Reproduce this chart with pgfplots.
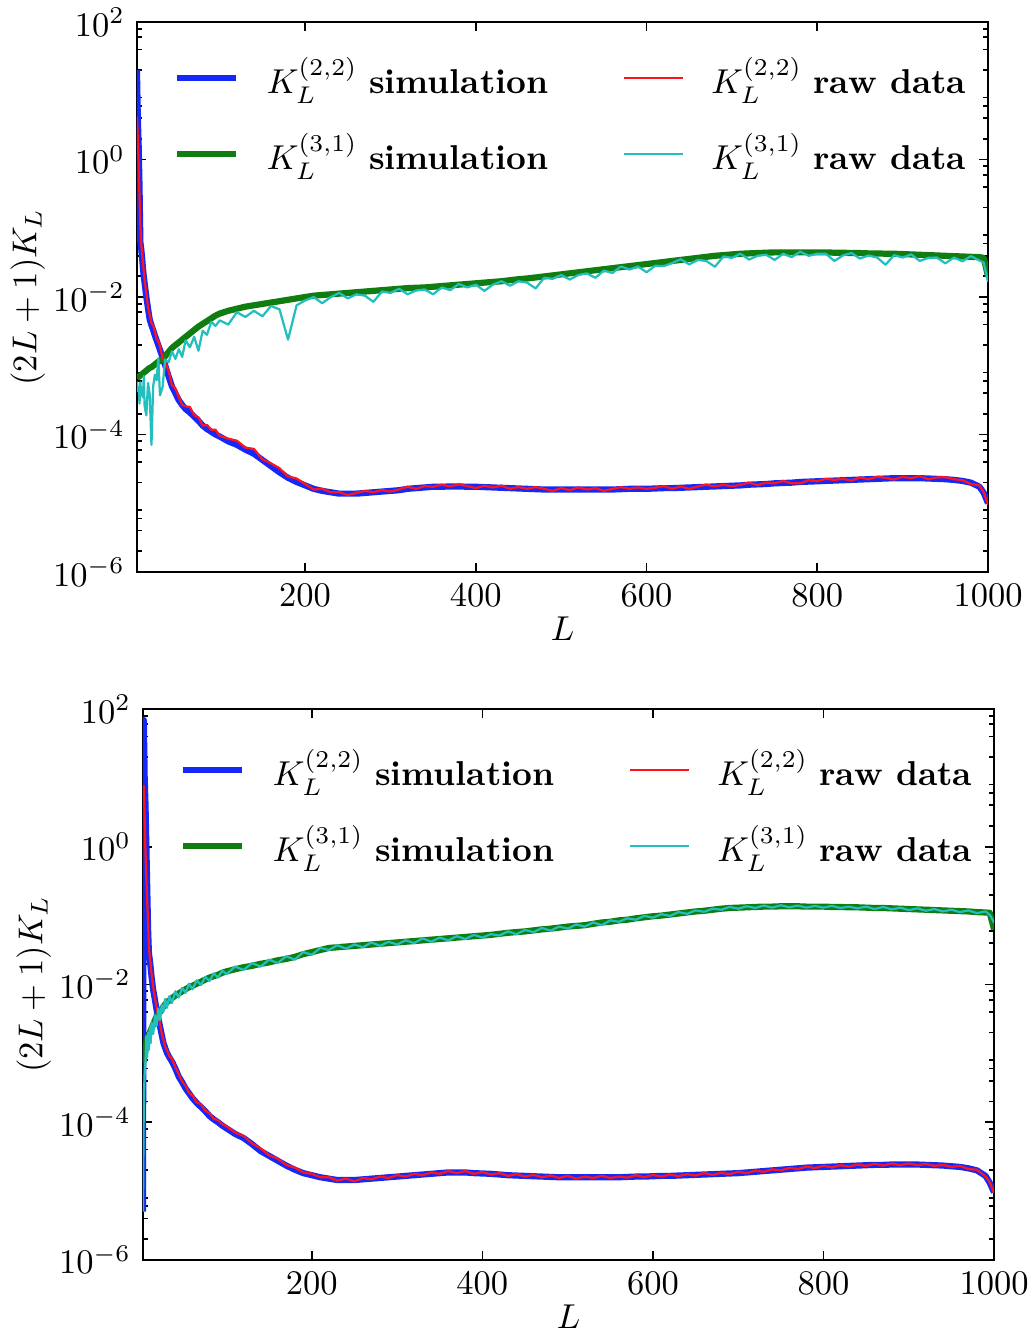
\documentclass[border=0pt]{standalone}
\usepackage{pgfplots}
\usepackage{pgfplotstable}
\pgfplotsset{compat=1.18}
\definecolor{simblue}{RGB}{20,40,250}
\definecolor{simgreen}{RGB}{15,125,15}
\definecolor{rawred}{RGB}{255,20,30}
\definecolor{rawcyan}{RGB}{35,190,190}

% columns: L, log10 of (2L+1)K_L for: blue sim (2,2), red raw (2,2), green sim (3,1), cyan raw (3,1)
\pgfplotstableread{
L lb lr lg lc
3 1.30 0.62 -3.18 -3.23
4 0.60 0.30 -3.17 -3.37
5 0.20 -0.05 -3.16 -3.31
6 -0.40 -0.55 -3.15 -3.55
7 -1.20 -0.95 -3.14 -3.24
8 -1.30 -1.22 -3.13 -3.43
9 -1.42 -1.35 -3.12 -3.32
10 -1.58 -1.50 -3.11 -3.46
11 -1.70 -1.62 -3.10 -3.15
12 -1.80 -1.74 -3.09 -3.59
14 -2.00 -1.95 -3.07 -3.72
16 -2.17 -2.15 -3.05 -3.25
18 -2.33 -2.26 -3.03 -3.43
20 -2.41 -2.38 -3.02 -4.15
22 -2.48 -2.41 -3.00 -3.30
24 -2.56 -2.50 -2.98 -3.13
26 -2.63 -2.61 -2.96 -3.21
28 -2.70 -2.64 -2.94 -2.89
30 -2.77 -2.71 -2.93 -3.43
33 -2.88 -2.89 -2.91 -3.31
36 -2.99 -2.95 -2.86 -2.91
40 -3.15 -3.07 -2.80 -2.95
44 -3.30 -3.28 -2.74 -2.79
48 -3.40 -3.33 -2.70 -2.90
52 -3.50 -3.45 -2.66 -2.76
56 -3.57 -3.57 -2.62 -2.87
60 -3.63 -3.59 -2.58 -2.63
65 -3.68 -3.60 -2.53 -2.73
70 -3.74 -3.72 -2.48 -2.58
75 -3.80 -3.75 -2.43 -2.78
80 -3.87 -3.87 -2.39 -2.49
85 -3.92 -3.86 -2.35 -2.55
90 -3.96 -3.93 -2.31 -2.36
95 -4.00 -3.93 -2.27 -2.42
100 -4.03 -4.02 -2.24 -2.34
110 -4.10 -4.06 -2.20 -2.40
120 -4.15 -4.09 -2.17 -2.22
130 -4.22 -4.19 -2.14 -2.29
140 -4.28 -4.21 -2.12 -2.20
150 -4.37 -4.36 -2.10 -2.28
160 -4.46 -4.42 -2.08 -2.13
170 -4.55 -4.49 -2.06 -2.18
180 -4.63 -4.61 -2.04 -2.62
190 -4.69 -4.64 -2.02 -2.12
200 -4.74 -4.72 -2.00 -2.05
210 -4.79 -4.80 -1.98 -2.00
220 -4.82 -4.79 -1.97 -2.09
230 -4.84 -4.84 -1.96 -2.00
240 -4.86 -4.84 -1.95 -1.94
250 -4.86 -4.88 -1.94 -2.02
260 -4.86 -4.85 -1.93 -1.96
270 -4.85 -4.82 -1.92 -1.98
280 -4.84 -4.84 -1.91 -2.07
290 -4.83 -4.81 -1.90 -1.92
300 -4.82 -4.83 -1.89 -1.94
310 -4.81 -4.80 -1.88 -1.88
320 -4.79 -4.76 -1.87 -1.96
330 -4.78 -4.79 -1.865 -1.905
340 -4.77 -4.75 -1.86 -1.89
350 -4.76 -4.76 -1.85 -1.96
360 -4.76 -4.73 -1.84 -1.86
370 -4.755 -4.755 -1.83 -1.90
380 -4.755 -4.725 -1.82 -1.81
390 -4.76 -4.75 -1.81 -1.86
400 -4.76 -4.78 -1.80 -1.82
410 -4.765 -4.745 -1.79 -1.91
420 -4.77 -4.77 -1.78 -1.82
430 -4.775 -4.745 -1.77 -1.77
440 -4.78 -4.79 -1.755 -1.835
450 -4.785 -4.765 -1.74 -1.77
460 -4.79 -4.79 -1.73 -1.79
470 -4.795 -4.765 -1.715 -1.875
480 -4.80 -4.79 -1.70 -1.72
490 -4.80 -4.82 -1.685 -1.735
500 -4.80 -4.78 -1.67 -1.68
510 -4.80 -4.81 -1.655 -1.745
520 -4.80 -4.77 -1.64 -1.68
530 -4.80 -4.80 -1.625 -1.655
540 -4.80 -4.78 -1.61 -1.72
550 -4.80 -4.82 -1.595 -1.615
560 -4.80 -4.79 -1.58 -1.65
570 -4.795 -4.765 -1.565 -1.555
580 -4.79 -4.79 -1.55 -1.60
590 -4.79 -4.77 -1.535 -1.555
600 -4.79 -4.79 -1.52 -1.64
610 -4.785 -4.775 -1.505 -1.545
620 -4.78 -4.75 -1.49 -1.55
630 -4.78 -4.79 -1.475 -1.505
640 -4.775 -4.755 -1.46 -1.45
650 -4.77 -4.79 -1.445 -1.525
660 -4.765 -4.755 -1.43 -1.46
670 -4.76 -4.73 -1.415 -1.475
680 -4.755 -4.755 -1.40 -1.56
690 -4.75 -4.73 -1.39 -1.41
700 -4.745 -4.755 -1.38 -1.43
710 -4.74 -4.73 -1.37 -1.37
720 -4.73 -4.70 -1.365 -1.455
730 -4.725 -4.735 -1.36 -1.40
740 -4.72 -4.70 -1.355 -1.385
750 -4.71 -4.71 -1.35 -1.46
760 -4.705 -4.675 -1.35 -1.37
770 -4.70 -4.71 -1.35 -1.42
780 -4.69 -4.71 -1.35 -1.34
790 -4.685 -4.665 -1.35 -1.40
800 -4.68 -4.68 -1.35 -1.37
810 -4.675 -4.645 -1.35 -1.37
820 -4.67 -4.66 -1.355 -1.475
830 -4.665 -4.645 -1.355 -1.395
840 -4.66 -4.67 -1.36 -1.36
850 -4.655 -4.625 -1.36 -1.44
860 -4.65 -4.65 -1.365 -1.395
870 -4.645 -4.615 -1.365 -1.425
880 -4.64 -4.63 -1.37 -1.53
890 -4.635 -4.655 -1.37 -1.39
900 -4.635 -4.615 -1.375 -1.425
910 -4.635 -4.635 -1.38 -1.38
920 -4.635 -4.605 -1.385 -1.475
930 -4.64 -4.65 -1.39 -1.43
940 -4.645 -4.625 -1.395 -1.425
950 -4.65 -4.62 -1.40 -1.51
960 -4.66 -4.65 -1.405 -1.425
970 -4.675 -4.665 -1.41 -1.48
980 -4.70 -4.72 -1.415 -1.405
990 -4.76 -4.74 -1.42 -1.47
995 -4.85 -4.84 -1.43 -1.50
1000 -5.00 -5.02 -1.70 -1.78
}\topdata

\pgfplotstableread{
L lb lr lg lc
2 -5.30 0.85 -3.14 -5.30
3 1.84 0.88 -3.10 -3.65
4 1.00 0.40 -3.02 -3.30
5 0.60 -0.10 -2.94 -3.10
6 0.00 -0.45 -2.86 -2.75
7 -0.60 -0.80 -2.80 -3.05
8 -1.20 -1.10 -2.76 -2.70
9 -1.55 -1.45 -2.73 -2.95
10 -1.64 -1.60 -2.70 -2.62
11 -1.75 -1.70 -2.67 -2.85
12 -1.88 -1.84 -2.64 -2.55
14 -2.08 -2.03 -2.58 -2.72
16 -2.22 -2.20 -2.52 -2.45
18 -2.37 -2.32 -2.46 -2.60
20 -2.49 -2.46 -2.43 -2.35
22 -2.61 -2.57 -2.40 -2.52
24 -2.73 -2.71 -2.36 -2.30
26 -2.85 -2.80 -2.32 -2.40
28 -2.92 -2.90 -2.29 -2.21
30 -2.99 -2.95 -2.26 -2.34
33 -3.06 -3.04 -2.23 -2.17
36 -3.12 -3.08 -2.20 -2.27
40 -3.22 -3.20 -2.16 -2.10
44 -3.34 -3.30 -2.13 -2.19
48 -3.42 -3.41 -2.10 -2.05
52 -3.51 -3.47 -2.07 -2.12
56 -3.58 -3.57 -2.04 -1.99
60 -3.65 -3.61 -2.02 -2.07
65 -3.72 -3.71 -1.99 -1.94
70 -3.78 -3.74 -1.96 -2.01
75 -3.84 -3.83 -1.93 -1.89
80 -3.91 -3.87 -1.90 -1.95
85 -3.96 -3.95 -1.88 -1.84
90 -4.00 -3.97 -1.86 -1.90
95 -4.05 -4.03 -1.83 -1.80
100 -4.09 -4.06 -1.81 -1.85
110 -4.17 -4.15 -1.78 -1.74
120 -4.23 -4.20 -1.75 -1.79
130 -4.32 -4.31 -1.73 -1.69
140 -4.42 -4.38 -1.70 -1.74
150 -4.49 -4.48 -1.68 -1.64
160 -4.56 -4.53 -1.65 -1.69
170 -4.63 -4.62 -1.63 -1.59
180 -4.69 -4.66 -1.60 -1.64
190 -4.74 -4.73 -1.56 -1.53
200 -4.77 -4.75 -1.53 -1.57
210 -4.80 -4.80 -1.50 -1.47
220 -4.82 -4.80 -1.47 -1.50
230 -4.84 -4.85 -1.46 -1.43
240 -4.84 -4.82 -1.45 -1.48
250 -4.84 -4.86 -1.44 -1.42
260 -4.83 -4.81 -1.43 -1.46
270 -4.82 -4.83 -1.42 -1.39
280 -4.81 -4.79 -1.41 -1.44
290 -4.80 -4.81 -1.40 -1.38
300 -4.79 -4.77 -1.39 -1.42
310 -4.78 -4.79 -1.38 -1.36
320 -4.77 -4.75 -1.37 -1.40
330 -4.76 -4.77 -1.36 -1.33
340 -4.75 -4.73 -1.35 -1.38
350 -4.74 -4.75 -1.34 -1.32
360 -4.73 -4.71 -1.33 -1.36
370 -4.73 -4.74 -1.32 -1.30
380 -4.73 -4.71 -1.31 -1.34
390 -4.74 -4.75 -1.30 -1.28
400 -4.745 -4.725 -1.29 -1.32
410 -4.75 -4.76 -1.28 -1.27
420 -4.76 -4.74 -1.265 -1.29
430 -4.77 -4.78 -1.25 -1.23
440 -4.775 -4.755 -1.24 -1.27
450 -4.78 -4.79 -1.23 -1.21
460 -4.785 -4.765 -1.215 -1.24
470 -4.79 -4.80 -1.20 -1.18
480 -4.795 -4.775 -1.19 -1.22
490 -4.80 -4.81 -1.175 -1.16
500 -4.80 -4.78 -1.16 -1.19
510 -4.80 -4.82 -1.15 -1.13
520 -4.80 -4.79 -1.14 -1.16
530 -4.80 -4.81 -1.12 -1.10
540 -4.80 -4.78 -1.10 -1.14
550 -4.80 -4.81 -1.09 -1.07
560 -4.80 -4.79 -1.07 -1.09
570 -4.795 -4.805 -1.06 -1.04
580 -4.79 -4.77 -1.04 -1.06
590 -4.79 -4.80 -1.025 -1.005
600 -4.785 -4.765 -1.01 -1.03
610 -4.78 -4.79 -1.00 -0.98
620 -4.78 -4.76 -0.985 -1.005
630 -4.775 -4.785 -0.97 -0.95
640 -4.77 -4.755 -0.955 -0.975
650 -4.765 -4.775 -0.94 -0.925
660 -4.76 -4.74 -0.93 -0.945
670 -4.755 -4.765 -0.915 -0.90
680 -4.75 -4.735 -0.90 -0.915
690 -4.745 -4.755 -0.89 -0.875
700 -4.74 -4.72 -0.885 -0.90
710 -4.73 -4.74 -0.88 -0.865
720 -4.72 -4.705 -0.875 -0.89
730 -4.71 -4.72 -0.87 -0.855
740 -4.70 -4.685 -0.87 -0.885
750 -4.69 -4.70 -0.865 -0.85
760 -4.68 -4.665 -0.865 -0.88
770 -4.67 -4.68 -0.865 -0.855
780 -4.66 -4.645 -0.87 -0.885
790 -4.655 -4.665 -0.87 -0.86
800 -4.65 -4.635 -0.87 -0.885
810 -4.645 -4.655 -0.875 -0.86
820 -4.64 -4.625 -0.875 -0.89
830 -4.635 -4.645 -0.88 -0.87
840 -4.63 -4.615 -0.88 -0.895
850 -4.625 -4.635 -0.885 -0.87
860 -4.62 -4.605 -0.89 -0.905
870 -4.62 -4.63 -0.89 -0.875
880 -4.615 -4.60 -0.895 -0.91
890 -4.615 -4.625 -0.90 -0.885
900 -4.615 -4.60 -0.905 -0.92
910 -4.615 -4.625 -0.91 -0.895
920 -4.62 -4.605 -0.915 -0.93
930 -4.625 -4.635 -0.92 -0.905
940 -4.63 -4.62 -0.925 -0.94
950 -4.64 -4.65 -0.93 -0.915
960 -4.65 -4.635 -0.935 -0.95
970 -4.67 -4.68 -0.94 -0.925
980 -4.70 -4.69 -0.95 -0.965
990 -4.78 -4.79 -0.955 -0.94
995 -4.88 -4.87 -0.96 -0.99
1000 -5.02 -5.03 -1.20 -1.10
}\botdata

\tikzset{
  simline/.style={line width=1.8pt, line join=round},
  rawline/.style={line width=0.65pt, line join=round},
}

\begin{document}
\begin{tikzpicture}
\begin{axis}[
    scale only axis,
    width=246.7pt, height=159.4pt,
    at={(0pt,0pt)}, anchor=south west,
    ymode=log,
    xmin=3, xmax=1000,
    ymin=1e-6, ymax=1e2,
    xtick={200,400,600,800,1000},
    ytick={1e-6,1e-4,1e-2,1,1e2},
    minor ytick={2e-6,4e-6,6e-6,8e-6,2e-5,4e-5,6e-5,8e-5,2e-4,4e-4,6e-4,8e-4,2e-3,4e-3,6e-3,8e-3,2e-2,4e-2,6e-2,8e-2,2e-1,4e-1,6e-1,8e-1,2,4,6,8,20,40,60,80},
    xticklabel style={/pgf/number format/set thousands separator={}},
    xtick pos=both, ytick pos=both,
    tick align=inside,
    major tick length=2.5pt,
    minor tick length=1.4pt,
    axis line style={line width=0.6pt},
    tick style={black, line width=0.5pt},
    xlabel={$L$},
    ylabel={$(2L+1)K_L$},
    xlabel style={yshift=3.7pt},
    ylabel style={yshift=-4.5pt},
    legend columns=2,
    legend cell align=left,
    legend style={draw=none, fill=none, inner sep=0pt, anchor=north west,
      at={(0.043,0.949)}, row sep=6pt,
      /tikz/every odd column/.append style={column sep=6pt},
      /tikz/every even column/.append style={column sep=19.5pt}},
  ]
  \addlegendimage{simblue, simline}
  \addlegendentry{$K_L^{(2,2)}$ \textbf{simulation}}
  \addlegendimage{rawred, rawline}
  \addlegendentry{$K_L^{(2,2)}$ \textbf{raw data}}
  \addlegendimage{simgreen, simline}
  \addlegendentry{$K_L^{(3,1)}$ \textbf{simulation}}
  \addlegendimage{rawcyan, rawline}
  \addlegendentry{$K_L^{(3,1)}$ \textbf{raw data}}
  \addplot[simblue, simline, forget plot] table[x=L, y expr={pow(10,\thisrow{lb})}] {\topdata};
  \addplot[simgreen, simline, forget plot] table[x=L, y expr={pow(10,\thisrow{lg})}] {\topdata};
  \addplot[rawred, rawline, forget plot] table[x=L, y expr={pow(10,\thisrow{lr})}] {\topdata};
  \addplot[rawcyan, rawline, forget plot] table[x=L, y expr={pow(10,\thisrow{lc})}] {\topdata};
\end{axis}
\begin{axis}[
    scale only axis,
    width=246.7pt, height=159.7pt,
    at={(1.74pt,-199.4pt)}, anchor=south west,
    ymode=log,
    xmin=2, xmax=1000,
    ymin=1e-6, ymax=1e2,
    xtick={200,400,600,800,1000},
    ytick={1e-6,1e-4,1e-2,1,1e2},
    minor ytick={2e-6,4e-6,6e-6,8e-6,2e-5,4e-5,6e-5,8e-5,2e-4,4e-4,6e-4,8e-4,2e-3,4e-3,6e-3,8e-3,2e-2,4e-2,6e-2,8e-2,2e-1,4e-1,6e-1,8e-1,2,4,6,8,20,40,60,80},
    xticklabel style={/pgf/number format/set thousands separator={}},
    xtick pos=both, ytick pos=both,
    tick align=inside,
    major tick length=2.5pt,
    minor tick length=1.4pt,
    axis line style={line width=0.6pt},
    tick style={black, line width=0.5pt},
    xlabel={$L$},
    ylabel={$(2L+1)K_L$},
    xlabel style={yshift=3.7pt},
    ylabel style={yshift=-4.5pt},
    legend columns=2,
    legend cell align=left,
    legend style={draw=none, fill=none, inner sep=0pt, anchor=north west,
      at={(0.043,0.94)}, row sep=6pt,
      /tikz/every odd column/.append style={column sep=6pt},
      /tikz/every even column/.append style={column sep=19.5pt}},
  ]
  \addlegendimage{simblue, simline}
  \addlegendentry{$K_L^{(2,2)}$ \textbf{simulation}}
  \addlegendimage{rawred, rawline}
  \addlegendentry{$K_L^{(2,2)}$ \textbf{raw data}}
  \addlegendimage{simgreen, simline}
  \addlegendentry{$K_L^{(3,1)}$ \textbf{simulation}}
  \addlegendimage{rawcyan, rawline}
  \addlegendentry{$K_L^{(3,1)}$ \textbf{raw data}}
  \addplot[simblue, simline, forget plot] table[x=L, y expr={pow(10,\thisrow{lb})}] {\botdata};
  \addplot[simgreen, simline, forget plot] table[x=L, y expr={pow(10,\thisrow{lg})}] {\botdata};
  \addplot[rawred, rawline, forget plot] table[x=L, y expr={pow(10,\thisrow{lr})}] {\botdata};
  \addplot[rawcyan, rawline, forget plot] table[x=L, y expr={pow(10,\thisrow{lc})}] {\botdata};
\end{axis}
\pgfresetboundingbox
\useasboundingbox (-39.7pt,-220.3pt) rectangle (258.6pt,165.8pt);
\end{tikzpicture}
\end{document}
